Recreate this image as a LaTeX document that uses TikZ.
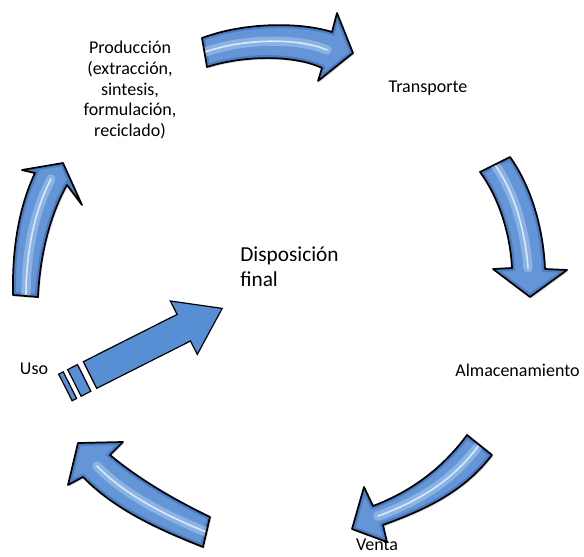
\documentclass[tikz,border=0pt]{standalone}
\usepackage{fontspec}
\setmainfont{Carlito}
\usetikzlibrary{shadows}
\definecolor{arrowblue}{RGB}{100,149,214}
\definecolor{arrowdark}{RGB}{58,104,178}
\definecolor{arrowlight}{RGB}{170,204,242}
\definecolor{flatblue}{RGB}{88,142,212}
% glossy curved block arrow: #1 outline path, #2 centre line for the sheen
\newcommand\glossyarrow[2]{%
  \fill[arrowblue, drop shadow={opacity=0.25,shadow xshift=1pt,shadow yshift=-1.2pt}] #1;
  \begin{scope}
    \clip #1;
    \draw[arrowdark, line width=4.5pt, opacity=0.55] #1;
    \draw[arrowlight, line width=7pt, opacity=0.55, line cap=round] #2;
    \draw[white, line width=1.2pt, opacity=0.7, line cap=round] #2;
  \end{scope}
  \draw[black, line width=1.3pt, line join=round] #1;
}
\tikzset{
  steplabel/.style={font=\fontsize{13.5}{15.6}\selectfont, inner sep=0pt, anchor=base},
  centrelabel/.style={font=\fontsize{16}{18.75}\selectfont, inner sep=0pt, anchor=base west, align=left},
  flatarrow/.style={fill=flatblue, draw=black, line width=0.9pt, line join=miter},
}
\begin{document}
\begin{tikzpicture}[x=0.75pt,y=-0.75pt]
\useasboundingbox (0,0) rectangle (584,556);

% cycle of curved arrows
\glossyarrow{(202,38) .. controls (245,22) and (300,22) .. (332,32) -- (337,13) -- (353,53) -- (318,81) -- (322,68) .. controls (295,55) and (245,55) .. (207,67) -- cycle}
            {(205,52) .. controls (245,38) and (300,38) .. (327,50)}
\glossyarrow{(480,172) -- (510,157) .. controls (530,185) and (543,225) .. (545,269) -- (567,270) -- (530,297) -- (493,269) -- (512,268) .. controls (510,230) and (497,195) .. (480,172) -- cycle}
            {(495,165) .. controls (513,190) and (525,228) .. (528,268)}
\glossyarrow{(467,435) -- (492,455) .. controls (465,490) and (430,508) .. (383,525) -- (387,542) -- (352,529) -- (364,487) -- (373,506) .. controls (415,490) and (445,465) .. (467,435) -- cycle}
            {(479,445) .. controls (455,478) and (422,500) .. (378,516)}
\glossyarrow{(110,455) .. controls (140,480) and (175,500) .. (210,517) -- (203,547) .. controls (160,530) and (115,510) .. (83,477) -- (68,485) -- (78,443) -- (123,442) -- cycle}
            {(206,532) .. controls (165,515) and (125,495) .. (97,466)}
\glossyarrow{(13,295) .. controls (12,245) and (20,205) .. (35,173) -- (22,170) -- (63,163) -- (82,205) -- (67,185) .. controls (50,215) and (40,255) .. (38,297) -- cycle}
            {(26,296) .. controls (26,250) and (35,210) .. (51,179)}

% straight arrow towards the centre, with its two tail stripes
\filldraw[flatarrow] (83.3,361.7) -- (177.1,314.4) -- (170.3,301) -- (222.2,308.4) -- (197.3,354.4) -- (190.5,341) -- (96.7,388.3) -- cycle;
\filldraw[flatarrow] (77.5,364.6) -- (90.9,391.2) -- (81.1,396.2) -- (67.7,369.6) -- cycle;
\filldraw[flatarrow] (63.2,371.8) -- (76.6,398.4) -- (72.1,400.7) -- (58.7,374.1) -- cycle;

% labels (multi-line nodes are placed by the baseline of their last line)
\node[steplabel, align=center] (produccion) at (130,136.7) {Producción\\(extracción,\\sintesis,\\formulación,\\reciclado)};
\node[steplabel] (transporte) at (428,92.7) {Transporte};
\node[steplabel] (almacenamiento) at (517.5,376.7) {Almacenamiento};
\node[steplabel] (venta) at (377,550) {Venta};
\node[steplabel] (uso) at (34,374.3) {Uso};
\node[centrelabel] (disposicion) at (240,286.7) {Disposición\\final};
\end{tikzpicture}
\end{document}
